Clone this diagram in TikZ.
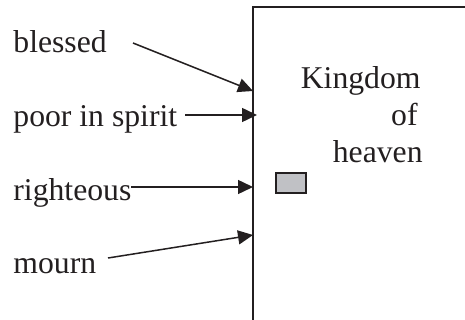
\documentclass[tikz,border=0pt]{standalone}
\usepackage{fontspec}
\setmainfont{Liberation Serif}
\usetikzlibrary{arrows.meta}
\definecolor{ink}{RGB}{35,31,32}
\definecolor{boxgray}{RGB}{192,193,197}
\begin{document}
\begin{tikzpicture}[x=0.5pt,y=-0.5pt,
  lbl/.style={inner sep=0pt,anchor=base west,text=ink,font=\fontsize{15.85}{19}\selectfont},
  klbl/.style={inner sep=0pt,anchor=base east,text=ink,font=\fontsize{15.85}{19}\selectfont},
  arr/.style={draw=ink,line width=0.75pt,-{Triangle[length=7.5pt,width=7pt]}},
  edge/.style={draw=ink,line width=1pt}]
\useasboundingbox (0,0) rectangle (465,320);
% box (clipped at right and bottom)
\coordinate (bl) at (253,321);
\coordinate (tl) at (253,7);
\coordinate (tr) at (466,7);
\draw[edge] (bl) -- (tl) -- (tr);
% labels
\node[lbl] (blessed) at (13,53) {blessed};
\node[lbl] (poor) at (13,127) {poor in spirit};
\node[lbl] (right) at (13,200) {righteous};
\node[lbl] (mourn) at (13,273) {mourn};
\node[klbl] (k1) at (421,89) {Kingdom};
\node[klbl] (k2) at (418,126) {of};
\node[klbl] (k3) at (423,163) {heaven};
% small grey box
\node[draw=ink,fill=boxgray,line width=0.75pt,minimum width=15pt,minimum height=10pt,inner sep=0pt] (gbox) at (291,183) {};
% arrow endpoints
\coordinate (s1) at (133,43);
\coordinate (e1) at (253,91);
\coordinate (s2) at (185,115);
\coordinate (e2) at (257,115);
\coordinate (s3) at (131,187);
\coordinate (e3) at (253,187);
\coordinate (s4) at (108,258);
\coordinate (e4) at (253,235);
\draw[arr] (s1) -- (e1);
\draw[arr] (s2) -- (e2);
\draw[arr] (s3) -- (e3);
\draw[arr] (s4) -- (e4);
\end{tikzpicture}
\end{document}
